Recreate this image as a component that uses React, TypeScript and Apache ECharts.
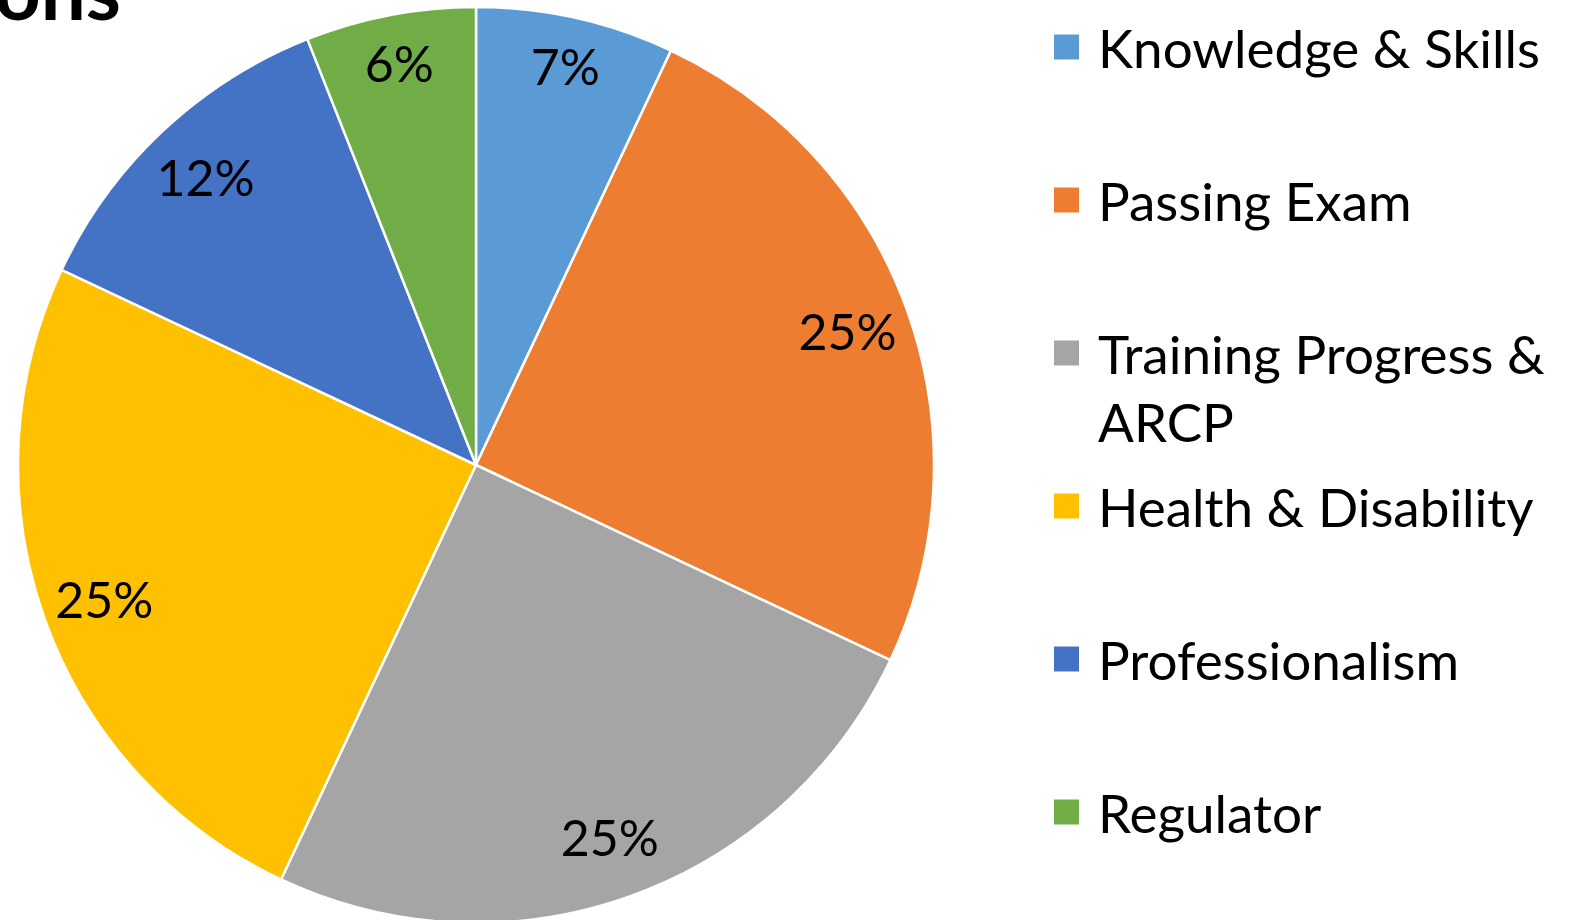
import React, { useEffect, useRef } from "react";
import * as echarts from "echarts";

const categories = [
  "Knowledge & Skills",
  "Passing Exam",
  "Training Progress & ARCP",
  "Health & Disability",
  "Professionalism",
  "Regulator",
];
const values = [7, 25, 25, 25, 12, 6];
const colors = ["#5B9BD5", "#ED7D31", "#A5A5A5", "#FFC000", "#4472C4", "#70AD47"];
const legendLabels = [
  "Knowledge & Skills",
  "Passing Exam",
  "\nTraining Progress &\nARCP",
  "Health & Disability",
  "Professionalism",
  "Regulator",
];
// slices whose labels sit near the top of the pie (placed closer to the rim)
const rimLabelCategories = ["Knowledge & Skills", "Regulator"];
const titleFragment = "ons";

const FONT = "Lato, 'Open Sans', sans-serif";

export default function App() {
  const ref = useRef<HTMLDivElement>(null);
  useEffect(() => {
    document.body.style.margin = "0";
    const chart = echarts.init(ref.current!, null, { renderer: "svg" });
    const data = categories.map((c, i) => ({
      name: c,
      value: values[i],
      itemStyle: { color: colors[i] },
    }));
    const legendCentersY = [47, 200, 353, 506, 659, 812];
    const legends = categories.map((c, i) => {
      const multi = legendLabels[i].includes("\n");
      return {
        show: true,
        orient: "vertical",
        left: 1052,
        top: multi ? legendCentersY[i] - 102 : legendCentersY[i] - 34,
        padding: 0,
        itemWidth: 27,
        itemHeight: 27,
        itemGap: 0,
        icon: "rect",
        selectedMode: false,
        data: [c],
        formatter: () => legendLabels[i],
        textStyle: {
          fontFamily: FONT,
          fontSize: 53,
          color: "#000",
          lineHeight: 68,
          padding: [0, 0, 0, 13],
        },
      };
    });
    const labelSeries = (radius: number[], rim: boolean) => ({
      type: "pie",
      center: [476, 465],
      radius,
      startAngle: 90,
      clockwise: true,
      data: categories.map((c, i) => ({
        name: c,
        value: values[i],
        itemStyle: { color: "rgba(0,0,0,0)" },
        label: { show: rimLabelCategories.includes(c) === rim },
      })),
      label: {
        position: "inside",
        formatter: "{c}%",
        fontFamily: FONT,
        fontSize: 50,
        color: "#000",
      },
      labelLine: { show: false },
      itemStyle: { borderWidth: 0 },
      emphasis: { disabled: true },
      silent: true,
    });
    chart.setOption({
      animation: false,
      backgroundColor: "#fff",
      legend: legends,
      graphic: [
        {
          type: "text",
          right: 1580 - 121,
          top: -51,
          style: {
            text: titleFragment,
            font: `bold 80px ${FONT}`,
            fill: "#000",
          },
        },
      ],
      series: [
        {
          type: "pie",
          center: [476, 465],
          radius: [0, 458],
          startAngle: 90,
          clockwise: true,
          data,
          label: { show: false },
          labelLine: { show: false },
          itemStyle: { borderColor: "#fff", borderWidth: 2.5 },
          emphasis: { disabled: true },
          silent: true,
        },
        labelSeries([326, 458], false),
        labelSeries([354, 458], true),
      ],
    });
    return () => chart.dispose();
  }, []);
  return <div ref={ref} style={{ width: 1580, height: 920 }} />;
}
